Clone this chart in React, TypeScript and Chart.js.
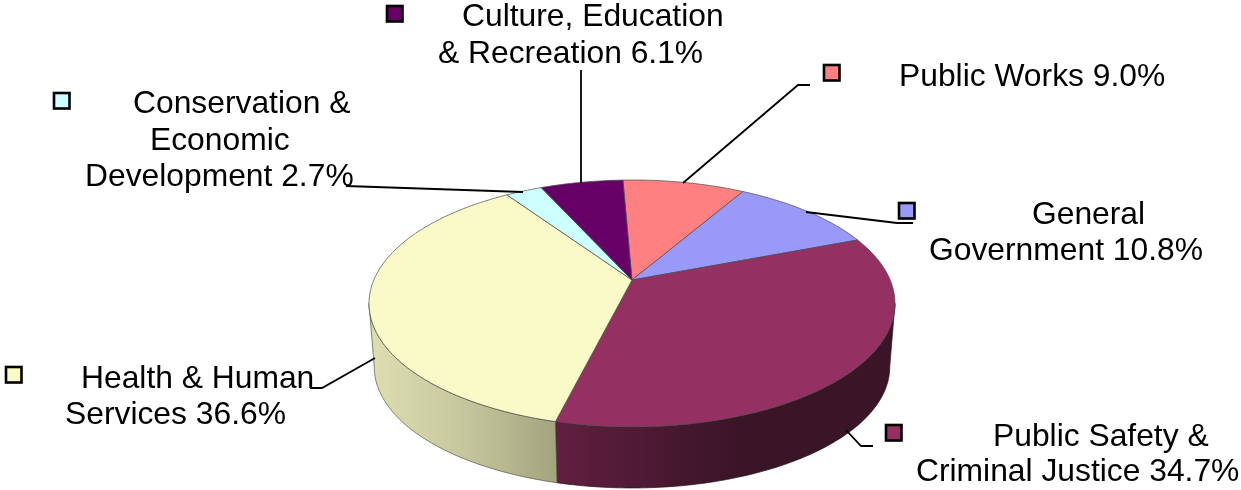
import React, { useEffect, useRef } from "react";
import { Chart, registerables } from "chart.js";

Chart.register(...registerables);

const categories = [
  "Public Works",
  "General Government",
  "Public Safety & Criminal Justice",
  "Health & Human Services",
  "Conservation & Economic Development",
  "Culture, Education & Recreation",
];
const shares = [9.0, 10.8, 34.7, 36.6, 2.7, 6.1];
const topColors = ["#FF8080", "#9999FA", "#943162", "#FAFAC8", "#CCFFFF", "#660066"];

// label layout: text lines [text, left x, baseline y]
const labelLines: [string, number, number][][] = [
  [["Public Works 9.0%", 899, 86]],
  [["General", 1032, 224], ["Government 10.8%", 929, 260]],
  [["Public Safety &", 993, 446], ["Criminal Justice 34.7%", 916, 481]],
  [["Health & Human", 81, 388], ["Services 36.6%", 65, 424]],
  [["Conservation &", 133, 113], ["Economic", 150, 150], ["Development 2.7%", 85, 186]],
  [["Culture, Education", 462, 26], ["& Recreation 6.1%", 438, 63]],
];
const swatchAt: [number, number][] = [
  [824, 65], [899, 203], [886, 425], [6, 367], [54, 93], [387, 6],
];
const leaders: [number, number][][] = [
  [[810, 85], [798, 85], [683, 183]],
  [[913, 223], [897, 223], [806, 212]],
  [[873, 446], [861, 446], [846, 430]],
  [[310, 388], [322, 388], [375, 358]],
  [[346, 186], [523, 192]],
  [[581, 70], [581, 183]],
];

// projection of the pie's tilted disc
const apexX = 632;
const apexY = 280;
const persp = -0.19;
const radX = 258.2;
const radY = 119;
const depth = 64;
const baseShrink = 0.98;
const rotationDeg = -2.4;
const FONT = '31.8px "Liberation Sans"';

function project(theta: number, base: boolean): [number, number] {
  const u = Math.sin(theta);
  const v = -Math.cos(theta);
  const d = 1 + persp * v;
  const s = base ? baseShrink : 1;
  return [apexX + (s * radX * u) / d, apexY + (s * radY * v) / d + (base ? depth : 0)];
}

const pie3d = {
  id: "pie3d",
  beforeDatasetDraw(chart: any, args: any) {
    const ctx: CanvasRenderingContext2D = chart.ctx;
    const arcs = args.meta.data;
    const step = Math.PI / 180;
    const range = (a: number, b: number) => {
      const out: number[] = [];
      for (let t = a; t < b; t += step) out.push(t);
      out.push(b);
      return out;
    };
    ctx.save();
    ctx.lineJoin = "round";

    // side wall between the two silhouette points, then the cap on top of it
    const wallLo = Math.acos(persp);
    const wallHi = 2 * Math.PI - wallLo;
    arcs.forEach((arc: any, i: number) => {
      const a = Math.max(arc.startAngle + Math.PI / 2, wallLo);
      const b = Math.min(arc.endAngle + Math.PI / 2, wallHi);
      if (a >= b) return;
      ctx.beginPath();
      range(a, b).forEach((t, k) => {
        const p = project(t, false);
        k ? ctx.lineTo(p[0], p[1]) : ctx.moveTo(p[0], p[1]);
      });
      range(a, b).reverse().forEach((t) => {
        const p = project(t, true);
        ctx.lineTo(p[0], p[1]);
      });
      ctx.closePath();
      const g = ctx.createLinearGradient(369, 0, 895, 0);
      if (i === 2) {
        g.addColorStop((557 - 369) / 526, "#611F41");
        g.addColorStop((640 - 369) / 526, "#4E1A35");
        g.addColorStop((740 - 369) / 526, "#3A1427");
        g.addColorStop(1, "#3A1427");
      } else {
        g.addColorStop(0, "#DEDEB2");
        g.addColorStop((460 - 369) / 526, "#C8C89F");
        g.addColorStop((557 - 369) / 526, "#A3A37F");
      }
      ctx.fillStyle = g;
      ctx.fill();
      ctx.strokeStyle = i === 2 ? "#2A0E1C" : "#55553F";
      ctx.lineWidth = 0.7;
      ctx.stroke();
    });

    arcs.forEach((arc: any) => {
      const a = arc.startAngle + Math.PI / 2;
      const b = arc.endAngle + Math.PI / 2;
      ctx.beginPath();
      ctx.moveTo(apexX, apexY);
      range(a, b).forEach((t) => {
        const p = project(t, false);
        ctx.lineTo(p[0], p[1]);
      });
      ctx.closePath();
      ctx.fillStyle = arc.options.backgroundColor;
      ctx.fill();
      ctx.strokeStyle = "#4A4A4A";
      ctx.lineWidth = 0.7;
      ctx.stroke();
    });
    ctx.restore();
    return false;
  },
  afterDatasetsDraw(chart: any) {
    const ctx: CanvasRenderingContext2D = chart.ctx;
    ctx.save();
    ctx.strokeStyle = "#000";
    ctx.lineWidth = 1.8;
    leaders.forEach((pts) => {
      ctx.beginPath();
      pts.forEach((p, k) => (k ? ctx.lineTo(p[0], p[1]) : ctx.moveTo(p[0], p[1])));
      ctx.stroke();
    });
    ctx.lineWidth = 2.6;
    swatchAt.forEach((p, i) => {
      ctx.fillStyle = topColors[i];
      ctx.fillRect(p[0], p[1], 15.5, 15.5);
      ctx.strokeRect(p[0], p[1], 15.5, 15.5);
    });
    ctx.fillStyle = "#000";
    ctx.font = FONT;
    ctx.textAlign = "left";
    ctx.textBaseline = "alphabetic";
    labelLines.forEach((lines) =>
      lines.forEach(([text, x, y]) => ctx.fillText(text, x, y))
    );
    ctx.restore();
  },
};

export default function App() {
  const ref = useRef<HTMLCanvasElement>(null);
  useEffect(() => {
    document.body.style.margin = "0";
    const chart = new Chart(ref.current!, {
      type: "pie",
      data: {
        labels: categories,
        datasets: [{ data: shares, backgroundColor: topColors }],
      },
      options: {
        animation: false,
        responsive: false,
        rotation: rotationDeg,
        plugins: { legend: { display: false }, tooltip: { enabled: false } },
      },
      plugins: [pie3d],
    } as any);
    return () => chart.destroy();
  }, []);
  return <canvas ref={ref} width={1241} height={490} style={{ display: "block" }} />;
}
